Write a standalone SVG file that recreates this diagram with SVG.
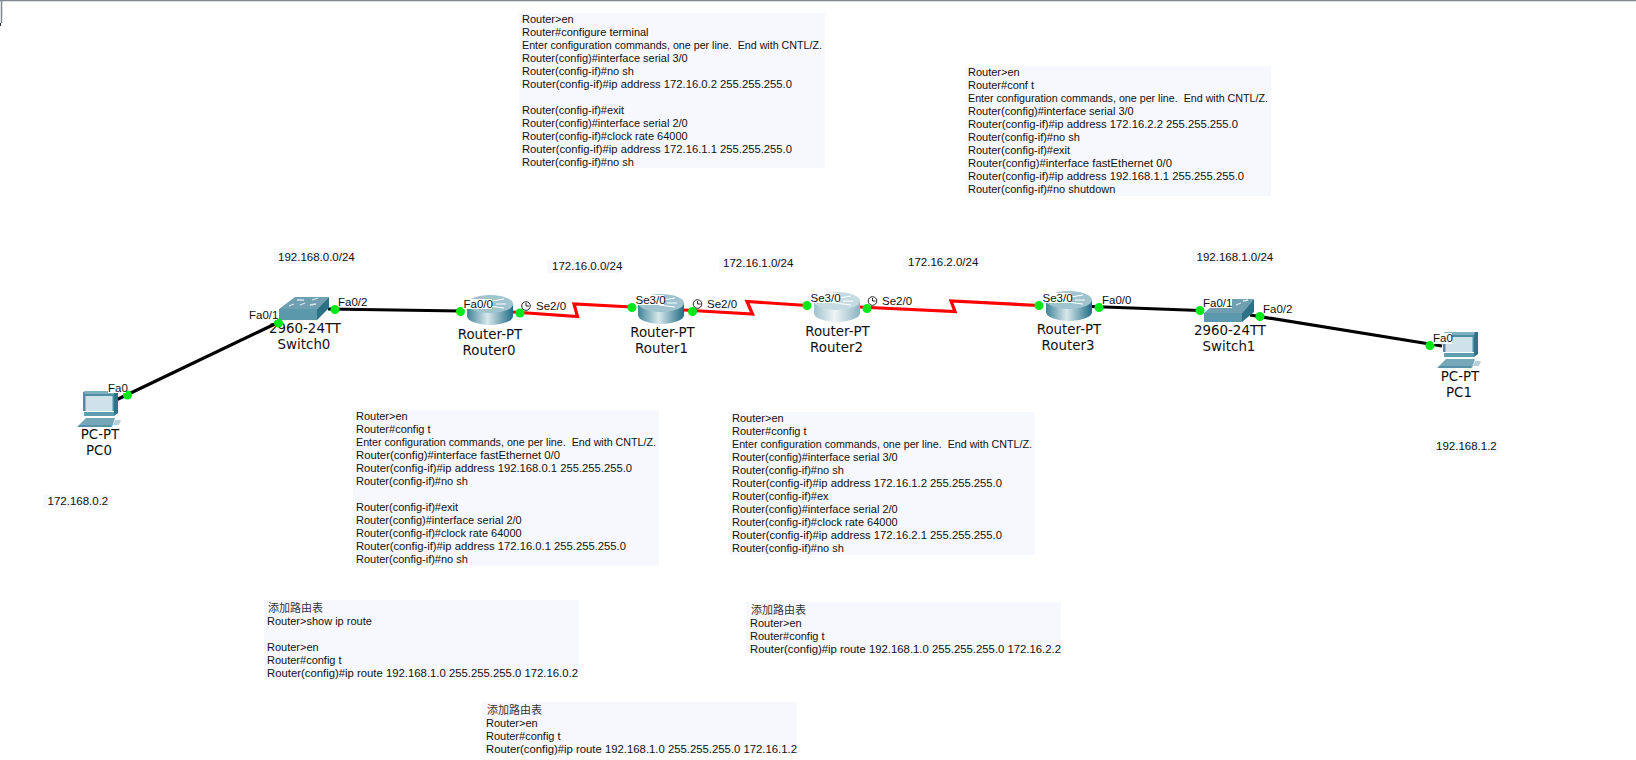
<svg xmlns="http://www.w3.org/2000/svg" width="1636" height="760" viewBox="0 0 1636 760">
<style>
text{font-family:"Liberation Sans",Arial,sans-serif;font-size:11.5px;fill:#111;white-space:pre}
.cfg text{font-size:11px}
.cfg text.cjk,.cjk{font-family:"Noto Sans CJK SC","Liberation Sans",sans-serif;font-size:11px;fill:#333}
.nl{font-family:"DejaVu Sans",Verdana,sans-serif;font-size:13.4px;text-anchor:middle;fill:#111}
.p{fill:#f7f8fe}
.eth{fill:none;stroke:#000;stroke-width:3.2}
.ser{fill:none;stroke:#f00;stroke-width:3.2;stroke-linejoin:miter}
.dot{fill:#00e81a}
.lb{fill:#fff}
.clk{fill:#fff;stroke:#222;stroke-width:1}
</style>
<defs>
<linearGradient id="rb" x1="0" x2="1" y1="0" y2="0"><stop offset="0" stop-color="#3f8397"/><stop offset=".45" stop-color="#d8e8ec"/><stop offset="1" stop-color="#1f6c84"/></linearGradient>
<linearGradient id="rb2" x1="0" x2="1" y1="0" y2="0"><stop offset="0" stop-color="#9fc1cb"/><stop offset=".45" stop-color="#eef5f6"/><stop offset="1" stop-color="#8cb3bf"/></linearGradient>
<g id="router"><path d="M-23 9V21A23 9 0 0 0 23 21V9Z" fill="url(#rb)"/><ellipse cy="9" rx="23" ry="9" fill="#9fc3cf"/><path d="M-14 10L-2 7M-2 11L14 13M2 6L14 4M6 9L16 9" stroke="#fff" stroke-width="1.2" fill="none"/></g>
<g id="router2"><path d="M-23 9V21A23 9 0 0 0 23 21V9Z" fill="url(#rb2)"/><ellipse cy="9" rx="23" ry="9" fill="#c5dbe2"/><path d="M-14 10L-2 7M-2 11L14 13M2 6L14 4M6 9L16 9" stroke="#fff" stroke-width="1.2" fill="none"/></g>
<g id="pc"><path d="M6 1H37V20H6Z" fill="#4d8fa5"/><path d="M37 0H41V22L37 25Z" fill="#2f7389"/><path d="M7 0H38L37 3H8Z" fill="#7fb0c0"/><rect x="8.500" y="5" width="27" height="15" fill="#cfe2e9"/><path d="M7 21H37V25H7Z" fill="#5f9db0"/><path d="M0 36L9 27H38L35 36Z" fill="#74a7b8"/><path d="M2 35H34" stroke="#3b7d92"/><path d="M38 29H44L42 34H36Z" fill="#b5d0d8"/></g>
</defs>
<rect width="1636" height="760" fill="#fff"/>
<path d="M0 .5H1636" stroke="#80868c" stroke-width="1.500"/>
<path d="M1.500 0V23" stroke="#80868c" stroke-width="1.500"/>
<rect x="0" y="23" width="1" height="3" fill="#333"/>

<g id="connectors">
<path class="eth" d="M114 401L277 323"/>
<path class="eth" d="M328 309L461 311"/>
<path class="ser" d="M513 312L577.500 316.500L574 304L632 307"/>
<path class="ser" d="M684 310L752.500 314L747 301.500L807 305.500"/>
<path class="ser" d="M859 307L955 311.500L951 301L1039 305.500"/>
<path class="eth" d="M1091 306.500L1200 310.500"/>
<path class="eth" d="M1250 315L1442 346"/>
</g>

<g id="PC0"><use href="#pc" x="77" y="391"/><text class="nl" x="100" y="439">PC-PT</text><text class="nl" x="99" y="455">PC0</text></g>
<g id="Switch0"><path d="M279 309L295 297H329L317 309Z" fill="#6f9fb0"/><path d="M279 309H317V320H279Z" fill="#5b98ab"/><path d="M317 309L329 297V308L317 320Z" fill="#2d7186"/><path d="M289 306L294 304M300 305L305 303M297 300L304 300M312 300L318 298M310 305L316 304" stroke="#d8e8ec" stroke-width="1.300"/><text class="nl" x="305" y="333">2960-24TT</text><text class="nl" x="304" y="349">Switch0</text></g>
<g id="Router0"><use href="#router" x="490" y="295"/><text class="nl" x="490" y="339">Router-PT</text><text class="nl" x="489" y="355">Router0</text></g>
<g id="Router1"><use href="#router" x="661" y="294"/><text class="nl" x="662.500" y="337">Router-PT</text><text class="nl" x="661.500" y="353">Router1</text></g>
<g id="Router2"><use href="#router2" x="837" y="292"/><text class="nl" x="837.500" y="335.500">Router-PT</text><text class="nl" x="836.500" y="351.500">Router2</text></g>
<g id="Router3"><use href="#router" x="1069" y="291"/><text class="nl" x="1069" y="334">Router-PT</text><text class="nl" x="1068" y="350">Router3</text></g>
<g id="Switch1"><path d="M1204 313L1220 299H1254L1242 313Z" fill="#6f9fb0"/><path d="M1204 313H1242V322H1204Z" fill="#5b98ab"/><path d="M1242 313L1254 299V312L1242 322Z" fill="#2d7186"/><path d="M1236 305L1241 303M1243 301L1248 300" stroke="#d8e8ec" stroke-width="1.300"/><text class="nl" x="1230" y="335">2960-24TT</text><text class="nl" x="1229" y="351">Switch1</text></g>
<g id="PC1"><use href="#pc" x="1437" y="332"/><text class="nl" x="1460" y="381">PC-PT</text><text class="nl" x="1459" y="397">PC1</text></g>

<g id="ports">
<g class="dot"><circle cx="127.500" cy="395" r="4.500"/><circle cx="278.500" cy="323" r="4.500"/><circle cx="335" cy="309.500" r="4.500"/><circle cx="460.500" cy="311.500" r="4.500"/><circle cx="520" cy="313" r="4.500"/><circle cx="632" cy="307.500" r="4.500"/><circle cx="692.500" cy="311.500" r="4.500"/><circle cx="807" cy="305.500" r="4.500"/><circle cx="867" cy="308.500" r="4.500"/><circle cx="1039" cy="305.500" r="4.500"/><circle cx="1099" cy="307.500" r="4.500"/><circle cx="1200" cy="310.500" r="4.500"/><circle cx="1260" cy="316.500" r="4.500"/><circle cx="1430" cy="345.500" r="4.500"/></g>
<g class="lb"><rect x="108" y="382" width="18" height="11"/><rect x="249" y="310" width="28" height="10"/><rect x="338" y="297" width="29" height="10"/><rect x="463" y="299" width="29" height="10"/><rect x="635" y="295" width="29" height="10"/><rect x="810" y="293" width="29" height="10"/><rect x="1042" y="293" width="29" height="10"/><rect x="1102" y="295" width="30" height="10"/><rect x="1203" y="298" width="29" height="10"/><rect x="1263" y="304" width="29" height="10"/><rect x="1433" y="333" width="19" height="11"/></g>
<circle class="clk" cx="526" cy="306" r="4.300"/><path d="M526 303V306H529" fill="none" stroke="#222"/>
<circle class="clk" cx="697.500" cy="304" r="4.300"/><path d="M697.500 301V304H700.500" fill="none" stroke="#222"/>
<circle class="clk" cx="872.500" cy="301" r="4.300"/><path d="M872.500 298V301H875.500" fill="none" stroke="#222"/>
<text x="108" y="392">Fa0</text>
<text x="249" y="319">Fa0/1</text>
<text x="338" y="306">Fa0/2</text>
<text x="463.500" y="308">Fa0/0</text>
<text x="536" y="310">Se2/0</text>
<text x="635.500" y="304">Se3/0</text>
<text x="707" y="308">Se2/0</text>
<text x="810.500" y="302">Se3/0</text>
<text x="882" y="305">Se2/0</text>
<text x="1042.500" y="302">Se3/0</text>
<text x="1102" y="304">Fa0/0</text>
<text x="1203" y="307">Fa0/1</text>
<text x="1263" y="313">Fa0/2</text>
<text x="1433" y="342">Fa0</text>
</g>

<g id="net-192-168-0-0"><rect class="p" x="274" y="251" width="81" height="13"/><text x="278" y="261">192.168.0.0/24</text></g>
<g id="net-172-16-0-0"><rect class="p" x="547" y="260" width="75" height="13"/><text x="552" y="270">172.16.0.0/24</text></g>
<g id="net-172-16-1-0"><rect class="p" x="719" y="257" width="75" height="13"/><text x="723" y="267">172.16.1.0/24</text></g>
<g id="net-172-16-2-0"><rect class="p" x="903" y="256" width="75" height="13"/><text x="908" y="266">172.16.2.0/24</text></g>
<g id="net-192-168-1-0"><rect class="p" x="1192" y="251" width="81" height="13"/><text x="1196.500" y="261">192.168.1.0/24</text></g>
<g id="ip-pc0"><rect class="p" x="43" y="495" width="65" height="13"/><text x="47.500" y="505">172.168.0.2</text></g>
<g id="ip-pc1"><rect class="p" x="1431" y="440" width="68" height="13"/><text x="1436" y="450">192.168.1.2</text></g>

<g id="cfg-router1" class="cfg"><rect class="p" x="519" y="13" width="306" height="155"/>
<text x="522" y="23">Router&gt;en</text><text x="522" y="36">Router#configure terminal</text><text x="522" y="49" textLength="300" lengthAdjust="spacingAndGlyphs">Enter configuration commands, one per line.  End with CNTL/Z.</text><text x="522" y="62">Router(config)#interface serial 3/0</text><text x="522" y="75">Router(config-if)#no sh</text><text x="522" y="88" textLength="270" lengthAdjust="spacingAndGlyphs">Router(config-if)#ip address 172.16.0.2 255.255.255.0</text><text x="522" y="114">Router(config-if)#exit</text><text x="522" y="127">Router(config)#interface serial 2/0</text><text x="522" y="140">Router(config-if)#clock rate 64000</text><text x="522" y="153" textLength="270" lengthAdjust="spacingAndGlyphs">Router(config-if)#ip address 172.16.1.1 255.255.255.0</text><text x="522" y="166">Router(config-if)#no sh</text></g>
<g id="cfg-router3" class="cfg"><rect class="p" x="965" y="66" width="306" height="130"/>
<text x="968" y="76">Router&gt;en</text><text x="968" y="89">Router#conf t</text><text x="968" y="102" textLength="300" lengthAdjust="spacingAndGlyphs">Enter configuration commands, one per line.  End with CNTL/Z.</text><text x="968" y="115">Router(config)#interface serial 3/0</text><text x="968" y="128" textLength="270" lengthAdjust="spacingAndGlyphs">Router(config-if)#ip address 172.16.2.2 255.255.255.0</text><text x="968" y="141">Router(config-if)#no sh</text><text x="968" y="154">Router(config-if)#exit</text><text x="968" y="167" textLength="204" lengthAdjust="spacingAndGlyphs">Router(config)#interface fastEthernet 0/0</text><text x="968" y="180" textLength="276" lengthAdjust="spacingAndGlyphs">Router(config-if)#ip address 192.168.1.1 255.255.255.0</text><text x="968" y="193">Router(config-if)#no shutdown</text></g>
<g id="cfg-router0" class="cfg"><rect class="p" x="353" y="410" width="306" height="156"/>
<text x="356" y="420">Router&gt;en</text><text x="356" y="433">Router#config t</text><text x="356" y="446" textLength="300" lengthAdjust="spacingAndGlyphs">Enter configuration commands, one per line.  End with CNTL/Z.</text><text x="356" y="459" textLength="204" lengthAdjust="spacingAndGlyphs">Router(config)#interface fastEthernet 0/0</text><text x="356" y="472" textLength="276" lengthAdjust="spacingAndGlyphs">Router(config-if)#ip address 192.168.0.1 255.255.255.0</text><text x="356" y="485">Router(config-if)#no sh</text><text x="356" y="511">Router(config-if)#exit</text><text x="356" y="524">Router(config)#interface serial 2/0</text><text x="356" y="537">Router(config-if)#clock rate 64000</text><text x="356" y="550" textLength="270" lengthAdjust="spacingAndGlyphs">Router(config-if)#ip address 172.16.0.1 255.255.255.0</text><text x="356" y="563">Router(config-if)#no sh</text></g>
<g id="cfg-router2" class="cfg"><rect class="p" x="729" y="412" width="306" height="143"/>
<text x="732" y="422">Router&gt;en</text><text x="732" y="435">Router#config t</text><text x="732" y="448" textLength="300" lengthAdjust="spacingAndGlyphs">Enter configuration commands, one per line.  End with CNTL/Z.</text><text x="732" y="461">Router(config)#interface serial 3/0</text><text x="732" y="474">Router(config-if)#no sh</text><text x="732" y="487" textLength="270" lengthAdjust="spacingAndGlyphs">Router(config-if)#ip address 172.16.1.2 255.255.255.0</text><text x="732" y="500">Router(config-if)#ex</text><text x="732" y="513">Router(config)#interface serial 2/0</text><text x="732" y="526">Router(config-if)#clock rate 64000</text><text x="732" y="539" textLength="270" lengthAdjust="spacingAndGlyphs">Router(config-if)#ip address 172.16.2.1 255.255.255.0</text><text x="732" y="552">Router(config-if)#no sh</text></g>
<g id="route-router0" class="cfg"><rect class="p" x="264" y="600" width="315" height="77"/>
<text class="cjk" x="268" y="612">添加路由表</text><text x="267" y="625">Router&gt;show ip route</text><text x="267" y="651">Router&gt;en</text><text x="267" y="664">Router#config t</text><text x="267" y="677" textLength="311" lengthAdjust="spacingAndGlyphs">Router(config)#ip route 192.168.1.0 255.255.255.0 172.16.0.2</text></g>
<g id="route-router1" class="cfg"><rect class="p" x="482" y="702" width="315" height="51"/>
<text class="cjk" x="487" y="714">添加路由表</text><text x="486" y="727">Router&gt;en</text><text x="486" y="740">Router#config t</text><text x="486" y="753" textLength="311" lengthAdjust="spacingAndGlyphs">Router(config)#ip route 192.168.1.0 255.255.255.0 172.16.1.2</text></g>
<g id="route-router2" class="cfg"><rect class="p" x="746" y="602" width="315" height="51"/>
<text class="cjk" x="751" y="614">添加路由表</text><text x="750" y="627">Router&gt;en</text><text x="750" y="640">Router#config t</text><text x="750" y="653" textLength="311" lengthAdjust="spacingAndGlyphs">Router(config)#ip route 192.168.1.0 255.255.255.0 172.16.2.2</text></g>
</svg>
